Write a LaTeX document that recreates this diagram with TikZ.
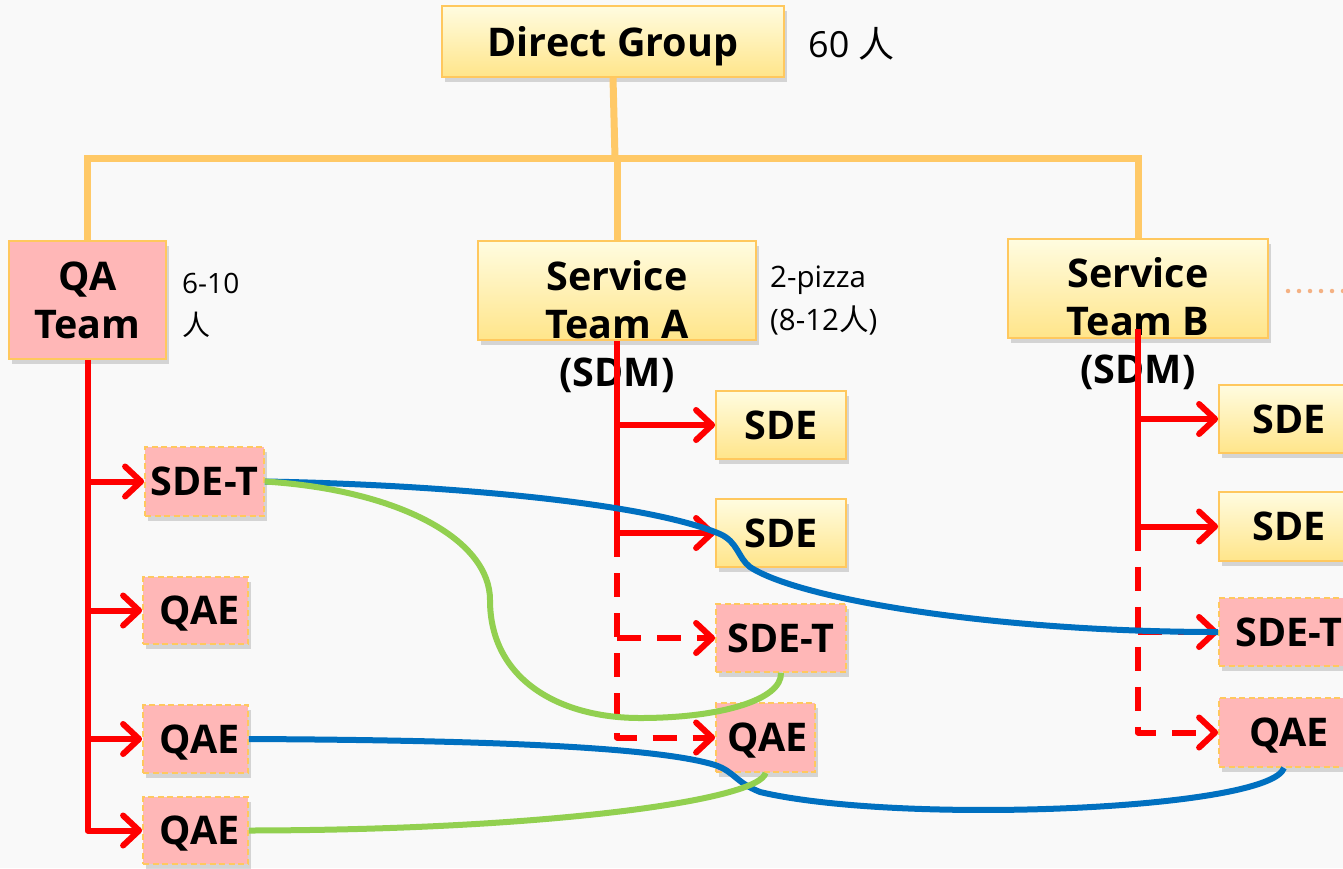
\documentclass[tikz,border=0pt]{standalone}
\usepackage{fontspec}
\setmainfont{Open Sans}
\newfontfamily\cjk{Noto Sans CJK SC}
\usetikzlibrary{arrows.meta,shadows,calc}

\definecolor{bgc}{HTML}{F9F9F9}
\definecolor{trunk}{HTML}{FFC967}
\definecolor{edgeo}{HTML}{FFC85E}
\definecolor{yelTop}{HTML}{FFFCE0}
\definecolor{yelBot}{HTML}{FFE58A}
\definecolor{pinkf}{HTML}{FFB7B7}
\definecolor{redl}{HTML}{FF0000}
\definecolor{bluel}{HTML}{0070C0}
\definecolor{greenl}{HTML}{92D050}
\definecolor{dotc}{HTML}{F4B183}

\tikzset{
  card/.style={draw=edgeo, line width=1.8pt, inner sep=0pt, align=center,
    font=\fontsize{39.5}{48}\selectfont\bfseries,
    drop shadow={shadow xshift=2.5pt, shadow yshift=-4.5pt, opacity=0.3}},
  oneline/.style={text depth=0pt},
  yelcard/.style={card, top color=yelTop, bottom color=yelBot},
  pinkcard/.style={card, fill=pinkf},
  member/.style={pinkcard, oneline, dash pattern=on 6pt off 3.5pt},
  cardtext/.style={align=center, inner sep=0pt, font=\fontsize{39.5}{48}\selectfont\bfseries},
  note/.style={anchor=base west, inner sep=0pt, align=left},
  trunkline/.style={draw=trunk, line width=7pt},
  report/.style={draw=redl, line width=6pt, line join=round,
    -{Straight Barb[length=16pt,width=30pt,round]}},
  planned/.style={report, dash pattern=on 24pt off 16pt},
  bluelink/.style={draw=bluel, line width=6pt},
  greenlink/.style={draw=greenl, line width=6pt},
}

\begin{document}
\begin{tikzpicture}[x=1pt,y=-1pt]
  \useasboundingbox (0,0) rectangle (1343,868);
  \fill[bgc] (0,0) rectangle (1343,868);
  \clip (0,0) rectangle (1343,868);

  % hierarchy trunk
  \coordinate (hub) at (615,158);

  % top level
  \node[yelcard, oneline, minimum width=342pt, minimum height=71pt] (dg) at (613,41.5) {Direct Group};
  \node[note, font=\fontsize{36}{40}\selectfont] (headcount) at (808,57) {60 {\cjk 人}};

  % teams
  \node[pinkcard, minimum width=157pt, minimum height=118pt] (qa) at (87.5,300) {QA\\Team};
  \node[note, font=\fontsize{28}{42}\selectfont] (qasize) at (182,335) {6-10\\{\cjk 人}};

  \node[yelcard, minimum width=278pt, minimum height=99pt] (sa) at (617,290.5) {};
  \node[cardtext] (satext) at (617,327) {Service\\Team A\\(SDM)};
  \node[note, font=\fontsize{29.5}{43}\selectfont] (pizza) at (770,330) {2-pizza\\(8-12{\cjk 人})};

  \node[yelcard, minimum width=260pt, minimum height=99pt] (sb) at (1138,288.5) {};
  \node[cardtext] (sbtext) at (1138,323.5) {Service\\Team B\\(SDM)};
  \coordinate (more) at (1288,291);

  % QA team members
  \node[member, minimum width=119pt, minimum height=69pt] (qsdet) at (204.5,481.5) {SDE-T};
  \node[member, minimum width=105pt, minimum height=67pt] (qqae1) at (195.5,610.5) {\hspace*{8pt}QAE};
  \node[member, minimum width=105pt, minimum height=68pt] (qqae2) at (195.5,739) {\hspace*{8pt}QAE};
  \node[member, minimum width=105pt, minimum height=67pt] (qqae3) at (195.5,830.5) {\hspace*{8pt}QAE};

  % service team A members
  \node[yelcard, oneline, minimum width=130pt, minimum height=68pt] (asde1) at (781,425) {SDE};
  \node[yelcard, oneline, minimum width=130pt, minimum height=68pt] (asde2) at (781,533) {SDE};
  \node[member, minimum width=130pt, minimum height=68pt] (asdet) at (781,638) {SDE-T};
  \node[member, minimum width=99pt, minimum height=69pt] (aqae) at (765.5,737.5) {\hspace*{4pt}QAE};

  % service team B members
  \node[yelcard, oneline, minimum width=140pt, minimum height=68pt] (bsde1) at (1289,419) {SDE};
  \node[yelcard, oneline, minimum width=140pt, minimum height=69pt] (bsde2) at (1289,526.5) {SDE};
  \node[member, minimum width=140pt, minimum height=68pt] (bsdet) at (1289,632) {SDE-T};
  \node[member, minimum width=140pt, minimum height=69pt] (bqae) at (1289,732.5) {QAE};

  % trunk lines
  \draw[trunkline] (dg.south) -- (hub);
  \draw[trunkline] (qa.north) |- (hub) -| (sb.north);
  \draw[trunkline] (hub -| sa.north) -- (sa.north);
  \draw[dotc, line width=4.5pt, line cap=round, dash pattern=on 0pt off 11pt] (more) -- ++(58,0);

  % QA team reporting
  \draw[report] (qa.south) |- (qqae3.west);
  \draw[report] (qa.south |- qsdet.west) -- (qsdet.west);
  \draw[report] (qa.south |- qqae1.west) -- (qqae1.west);
  \draw[report] (qa.south |- qqae2.west) -- (qqae2.west);

  % service team A reporting
  \draw[report] (sa.south) |- (asde2.west);
  \draw[report] (sa.south |- asde1.west) -- (asde1.west);
  \draw[planned] (sa.south |- asde2.west) |- (aqae.west);
  \draw[planned] (sa.south |- asdet.west) -- (asdet.west);

  % service team B reporting
  \coordinate (bstem) at ($(sb.south)+(0,-10)$);
  \draw[report] (bstem) |- (bsde2.west);
  \draw[report] (bstem |- bsde1.west) -- (bsde1.west);
  \draw[planned] (bstem |- bsde2.west) |- (bqae.west);
  \draw[planned] (bstem |- bsdet.west) -- (bsdet.west);

  % cross-team links
  \draw[bluelink] (qsdet.east) .. controls (420,484) and (640,500) .. (720,534)
    .. controls (738,542) and (738,558) .. (750,567)
    .. controls (800,600) and (1000,632) .. (bsdet.west);
  \draw[bluelink] (qqae2.east) .. controls (450,740) and (650,745) .. (715,765)
    .. controls (735,772) and (735,782) .. (760,792)
    .. controls (900,825) and (1270,810) .. ($(bqae.south)+(-5,0)$);
  \draw[greenlink] (qsdet.east) .. controls (400,490) and (490,540) .. (490,600)
    .. controls (490,680) and (560,718) .. (640,718)
    .. controls (720,718) and (782,700) .. (asdet.south);
  \draw[greenlink] (qqae3.east) .. controls (550,830) and (760,800) .. (aqae.south);
\end{tikzpicture}
\end{document}
